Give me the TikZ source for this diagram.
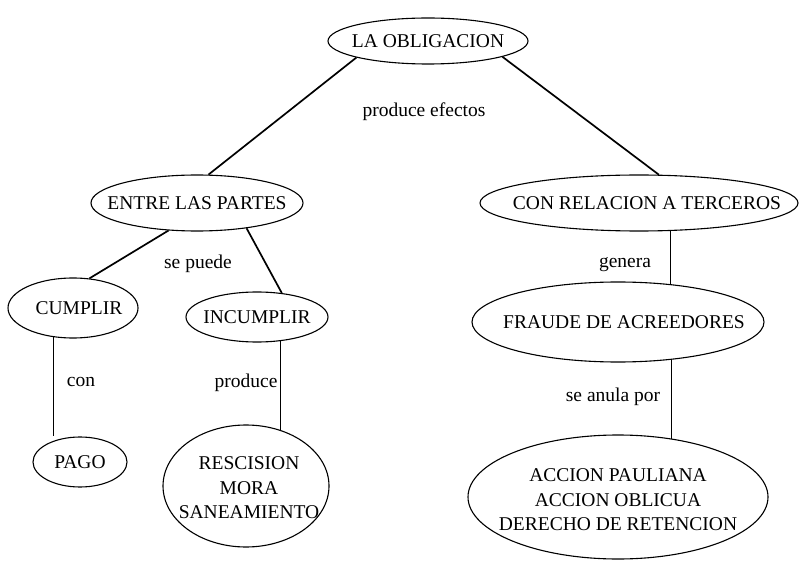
\documentclass[tikz,border=0pt]{standalone}
\usepackage{fontspec}
\setmainfont{Liberation Serif}
\usetikzlibrary{shapes.geometric}
\begin{document}
\begin{tikzpicture}[x=1pt,y=-1pt,
  txt/.style={font=\fontsize{19.5}{24.5}\selectfont, inner sep=0pt},
  concept/.style={ellipse, draw, line width=1.1pt, inner sep=0pt},
  link/.style={line width=1.7pt},
  vlink/.style={line width=1pt},
  word/.style={txt}]
  \useasboundingbox (0,0) rectangle (800,561);

  % concepts
  \node[concept, minimum width=200, minimum height=46,
        label={[txt]center:LA OBLIGACION}] (la) at (428,41) {};
  \node[concept, minimum width=212, minimum height=56,
        label={[txt]center:ENTRE LAS PARTES}] (ep) at (197,203) {};
  \node[concept, minimum width=318, minimum height=56,
        label={[txt,xshift=8]center:CON RELACION A TERCEROS}] (rt) at (639,203) {};
  \node[concept, minimum width=130, minimum height=60,
        label={[txt,xshift=6]center:CUMPLIR}] (cu) at (73,308) {};
  \node[concept, minimum width=142, minimum height=50,
        label={[txt]center:INCUMPLIR}] (in) at (257,317) {};
  \node[concept, minimum width=94, minimum height=50,
        label={[txt]center:PAGO}] (pa) at (80,462) {};
  \node[concept, minimum width=166, minimum height=122,
        label={[txt,align=center,xshift=3,yshift=-2]center:RESCISION\\MORA\\SANEAMIENTO}] (rs) at (246,486) {};
  \node[concept, minimum width=292, minimum height=80,
        label={[txt,xshift=6]center:FRAUDE DE ACREEDORES}] (fr) at (618,322) {};
  \node[concept, minimum width=300, minimum height=124,
        label={[txt,align=center,yshift=-3]center:ACCION PAULIANA\\ACCION OBLICUA\\DERECHO DE RETENCION}] (ac) at (618,497) {};

  % linking words
  \node[word] (w1) at (424,112) {produce efectos};
  \node[word] (w2) at (198,264) {se puede};
  \node[word] (w3) at (81,382) {con};
  \node[word] (w4) at (246,383) {produce};
  \node[word] (w5) at (625,265) {genera};
  \node[word] (w6) at (613,397) {se anula por};

  % connectors
  \draw[link] (la.193) -- (ep.68);
  \draw[link] (la.348) -- (rt.55);
  \draw[link] (ep.224) -- (cu.61);
  \draw[link] (ep.333) -- (in.44);
  \draw[vlink] (cu.236.5) -- (cu.236.5 |- pa.north);
  \draw[vlink] (in.314) -- (in.314 |- rs.58.5);
  \draw[vlink] (rt.318.5) -- (rt.318.5 |- fr.35.7);
  \draw[vlink] (fr.325.4) -- (fr.325.4 |- ac.47);
\end{tikzpicture}
\end{document}
